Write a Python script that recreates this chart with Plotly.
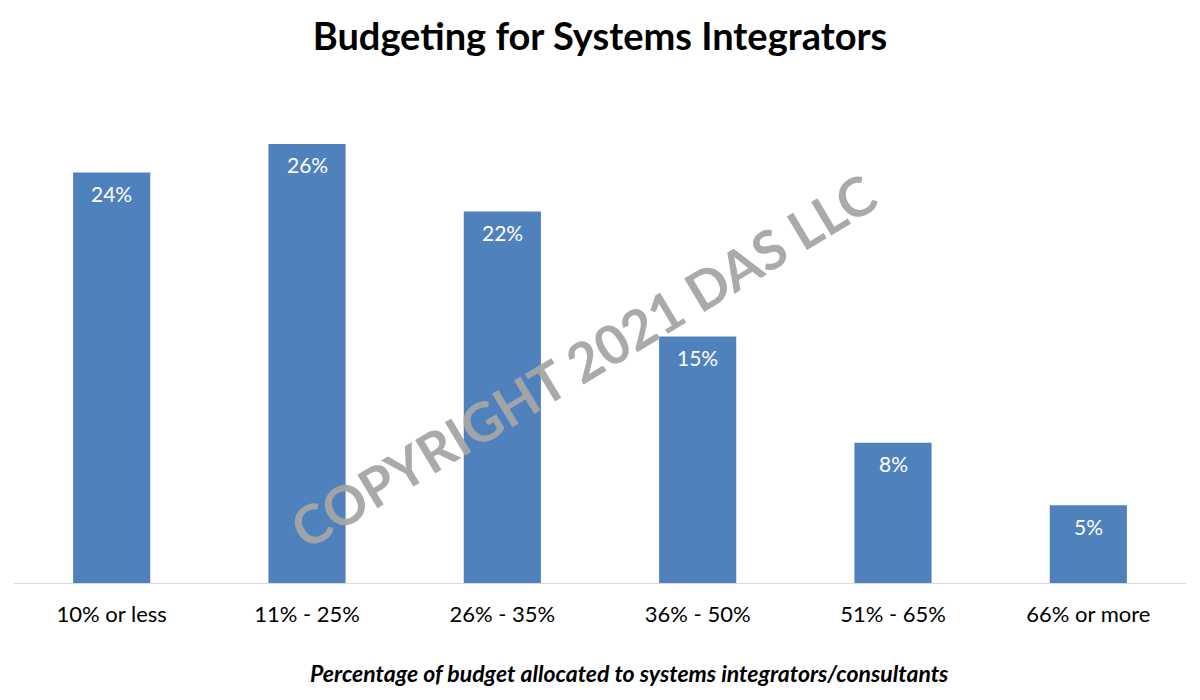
import plotly.graph_objects as go

categories = ["10% or less", "11% - 25%", "26% - 35%", "36% - 50%", "51% - 65%", "66% or more"]
values = [0.243, 0.260, 0.220, 0.146, 0.083, 0.046]
labels = ["24%", "26%", "22%", "15%", "8%", "5%"]

FONT = "Lato, Open Sans, sans-serif"

fig = go.Figure(go.Bar(
    x=categories, y=values,
    marker=dict(color="#4F81BD", line=dict(width=0)),
    width=0.395, cliponaxis=False,
))

for c, v, t in zip(categories, values, labels):
    fig.add_annotation(x=c, y=v, text=t, showarrow=False, yanchor="middle", yshift=-21,
                       font=dict(color="white", size=21, family=FONT))

fig.update_layout(
    width=1200, height=700,
    margin=dict(l=14, r=14, t=100, b=117),
    paper_bgcolor="white", plot_bgcolor="white",
    title=dict(text="<b>Budgeting for Systems Integrators</b>", x=0.5, xanchor="center",
               y=0.947, yanchor="middle", font=dict(size=38, color="black", family=FONT)),
    showlegend=False,
    xaxis=dict(showline=True, linecolor="#D9D9D9", linewidth=1, ticks="",
               tickfont=dict(size=22, color="black", family=FONT), ticklabelstandoff=12),
    yaxis=dict(visible=False, range=[0, 0.286]),
)

fig.add_annotation(text="<b><i>Percentage of budget allocated to systems integrators/consultants</i></b>",
                   xref="paper", yref="paper", x=0.525, y=-0.187, xanchor="center", yanchor="middle",
                   showarrow=False, font=dict(size=23, color="black", family=FONT))

fig.add_annotation(text="<b>COPYRIGHT 2021 DAS LLC</b>", xref="paper", yref="paper",
                   x=0.486, y=0.46, xanchor="center", yanchor="middle", showarrow=False,
                   textangle=-31, opacity=0.95,
                   font=dict(size=54, color="#A6A6A6", family=FONT))

fig.write_html("out.html")
